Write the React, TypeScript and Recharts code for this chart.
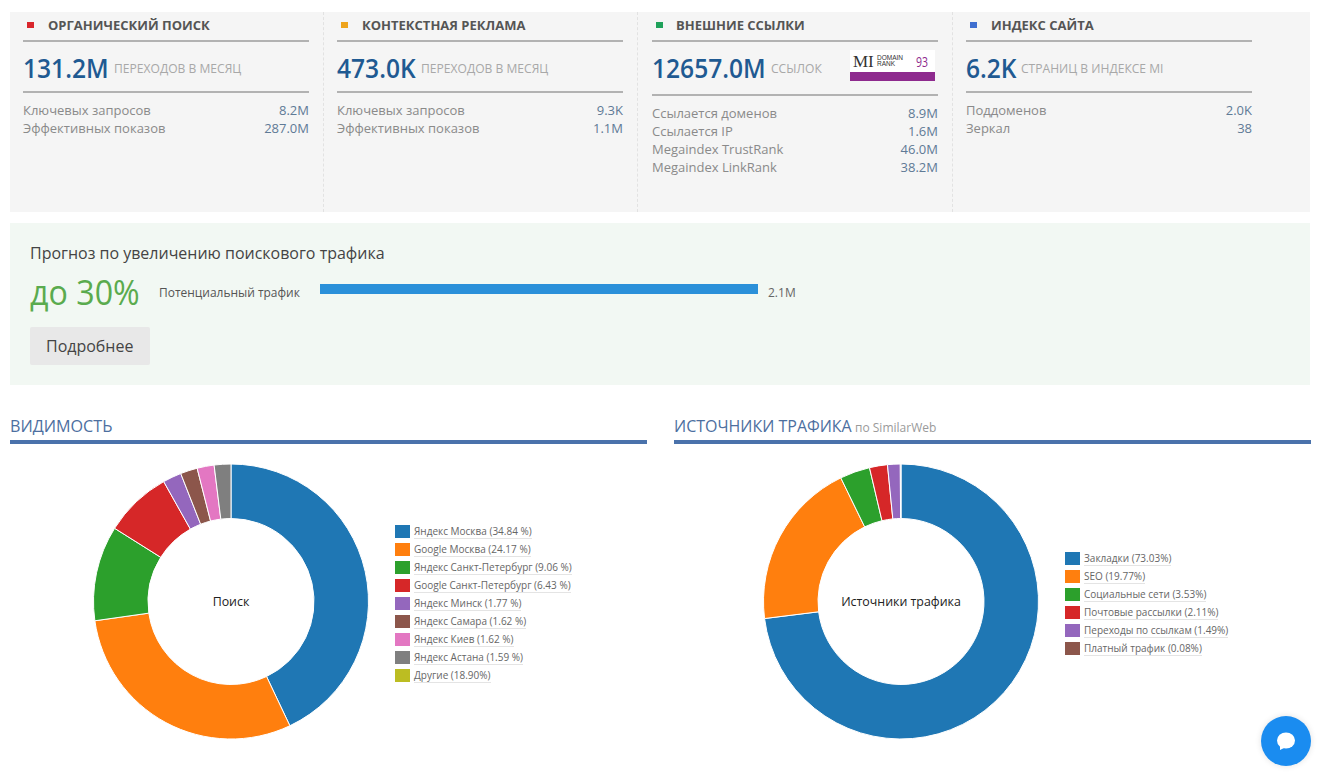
import React from "react";
import { PieChart, Pie, Cell, Label, BarChart, Bar, XAxis, YAxis } from "recharts";

const visibilityNames = ["Яндекс Москва", "Google Москва", "Яндекс Санкт-Петербург", "Google Санкт-Петербург", "Яндекс Минск", "Яндекс Самара", "Яндекс Киев", "Яндекс Астана"];
const visibilityValues = [34.84, 24.17, 9.06, 6.43, 1.77, 1.62, 1.62, 1.59];
const visibilityOtherLabel = "Другие (18.90%)";
const sourceNames = ["Закладки", "SEO", "Социальные сети", "Почтовые рассылки", "Переходы по ссылкам", "Платный трафик"];
const sourceValues = [73.03, 19.77, 3.53, 2.11, 1.49, 0.08];
const palette = ["#1f77b4", "#ff7f0e", "#2ca02c", "#d62728", "#9467bd", "#8c564b", "#e377c2", "#7f7f7f", "#bcbd22"];
const forecastRows = [{ name: "Потенциальный трафик", value: 2.1 }];

const FONT = "'Open Sans', sans-serif";

const T = ({ x, y, size, color, children, weight, right, font, sx, ls }: any) => (
  <div
    style={{
      position: "absolute",
      top: y,
      ...(right !== undefined ? { right: 1321 - right } : { left: x }),
      transform: `translateY(-50%) scaleX(${sx ?? 1})`,
      transformOrigin: right !== undefined ? "right center" : "left center",
      fontFamily: font ?? FONT,
      fontSize: size,
      fontWeight: weight ?? 400,
      color,
      letterSpacing: ls,
      lineHeight: 1,
      whiteSpace: "nowrap",
    }}
  >
    {children}
  </div>
);

const Box = ({ x, y, w, h, bg, style }: any) => (
  <div style={{ position: "absolute", left: x, top: y, width: w, height: h, background: bg, ...style }} />
);

const cards = [
  { x: 23, titleX: 48, marker: "#d9262c", title: "ОРГАНИЧЕСКИЙ ПОИСК", big: "131.2M", sub: "ПЕРЕХОДОВ В МЕСЯЦ", subX: 114, line2: 91, firstRow: 110, rows: [["Ключевых запросов", "8.2M"], ["Эффективных показов", "287.0M"]] },
  { x: 337, titleX: 362, marker: "#eea41c", title: "КОНТЕКСТНАЯ РЕКЛАМА", big: "473.0K", sub: "ПЕРЕХОДОВ В МЕСЯЦ", subX: 421, line2: 91, firstRow: 110, rows: [["Ключевых запросов", "9.3K"], ["Эффективных показов", "1.1M"]] },
  { x: 652, titleX: 676, marker: "#1fa15a", title: "ВНЕШНИЕ ССЫЛКИ", big: "12657.0M", sub: "ССЫЛОК", subX: 771, line2: 94, firstRow: 113, rows: [["Ссылается доменов", "8.9M"], ["Ссылается IP", "1.6M"], ["Megaindex TrustRank", "46.0M"], ["Megaindex LinkRank", "38.2M"]] },
  { x: 966, titleX: 991, marker: "#3f6fd0", title: "ИНДЕКС САЙТА", big: "6.2K", sub: "СТРАНИЦ В ИНДЕКСЕ MI", subX: 1021, line2: 91, firstRow: 110, rows: [["Поддоменов", "2.0K"], ["Зеркал", "38"]] },
];

const Donut = ({ names, values, x, center }: any) => {
  const data = names.map((name: string, i: number) => ({ name, value: values[i] }));
  return (
    <div style={{ position: "absolute", left: x, top: 456.5, width: 290, height: 290 }}>
      <PieChart width={290} height={290} margin={{ top: 0, right: 0, bottom: 0, left: 0 }}>
        <Pie
          data={data}
          dataKey="value"
          cx={145}
          cy={144.5}
          innerRadius={83}
          outerRadius={137.5}
          startAngle={90}
          endAngle={-270}
          stroke="#ffffff"
          strokeWidth={1}
          isAnimationActive={false}
        >
          {data.map((_: any, i: number) => (
            <Cell key={i} fill={palette[i]} />
          ))}
          <Label value={center} position="center" fill="#222222" fontSize={12.4} fontFamily="'Open Sans', sans-serif" />
        </Pie>
      </PieChart>
    </div>
  );
};

const LegendList = ({ x, y, labels }: any) => (
  <>
    {labels.map((label: string, i: number) => (
      <React.Fragment key={label}>
        <Box x={x} y={y + i * 18 - 7} w={15} h={13} bg={palette[i]} />
        <div
          style={{
            position: "absolute",
            left: x + 19,
            top: y + i * 18 - 7,
            fontFamily: FONT,
            fontSize: 10,
            lineHeight: "13px",
            color: "#666",
            borderBottom: "1px solid #e4e4e4",
            whiteSpace: "nowrap",
          }}
        >
          {label}
        </div>
      </React.Fragment>
    ))}
  </>
);

export default function App() {
  const visLabels = [
    ...visibilityNames.map((n, i) => `${n} (${visibilityValues[i].toFixed(2)} %)`),
    visibilityOtherLabel,
  ];
  const srcLabels = sourceNames.map((n, i) => `${n} (${sourceValues[i].toFixed(2)}%)`);
  return (
    <div style={{ position: "absolute", left: 0, top: 0, width: 1321, height: 777, background: "#fff", overflow: "hidden" }}>
      <Box x={10} y={12} w={1300} h={200} bg="#f5f5f5" />
      {[323, 637, 952].map((sx) => (
        <Box key={sx} x={sx} y={12} w={0} h={200} style={{ borderLeft: "1px dashed #e2e2e2" }} />
      ))}
      {cards.map((c) => (
        <React.Fragment key={c.title}>
          <Box x={c.x + 4} y={22} w={7} h={6} bg={c.marker} />
          <T x={c.titleX} y={25} size={13} weight={700} color="#555555">{c.title}</T>
          <Box x={c.x} y={40} w={286} h={2} bg="#b2b2b2" />
          <T x={c.x} y={67} size={27} weight={600} color="#1f5a92" sx={0.91}>{c.big}</T>
          <T x={c.subX} y={68} size={13} color="#a8a8a8" sx={0.93}>{c.sub}</T>
          <Box x={c.x} y={c.line2} w={286} h={2} bg="#b2b2b2" />
          {c.rows.map((r, i) => (
            <React.Fragment key={r[0]}>
              <T x={c.x} y={c.firstRow + i * 18} size={13} color="#8a8a8a">{r[0]}</T>
              <T right={c.x + 286} y={c.firstRow + i * 18} size={13} color="#5f7a96">{r[1]}</T>
            </React.Fragment>
          ))}
        </React.Fragment>
      ))}
      <Box x={850} y={50} w={85} h={31} bg="#ffffff" />
      <Box x={850} y={72} w={85} h={9} bg="#8e2a8e" />
      <T x={853} y={61} size={17} color="#333" font="'Liberation Serif', serif">MI</T>
      <T x={877} y={58} size={6.5} color="#333" font="'Liberation Sans', sans-serif">DOMAIN</T>
      <T x={877} y={64} size={6.5} color="#333" font="'Liberation Sans', sans-serif">RANK</T>
      <T x={916} y={61} size={15} color="#8e2a8e" sx={0.7}>93</T>

      <Box x={10} y={223} w={1300} h={162} bg="#f2f8f3" />
      <T x={30} y={252} size={17} color="#444444" sx={0.94}>Прогноз по увеличению поискового трафика</T>
      <T x={30} y={291} size={35} color="#5aab4e" sx={0.92}>до 30%</T>
      <T x={159} y={292} size={13} color="#555555" sx={0.92}>{forecastRows[0].name}</T>
      <div style={{ position: "absolute", left: 320, top: 284, width: 438, height: 10 }}>
        <BarChart width={438} height={10} data={forecastRows} layout="vertical" margin={{ top: 0, right: 0, bottom: 0, left: 0 }} barCategoryGap={0}>
          <XAxis type="number" hide domain={[0, 2.1]} />
          <YAxis type="category" dataKey="name" hide />
          <Bar dataKey="value" fill="#2b90d9" isAnimationActive={false} />
        </BarChart>
      </div>
      <T x={768} y={293} size={12} color="#666666">2.1M</T>
      <Box x={30} y={327} w={120} h={38} bg="#e8e8e8" style={{ borderRadius: 2 }} />
      <T x={46} y={345} size={17} color="#444444" sx={0.94}>Подробнее</T>

      <T x={10} y={425} size={17} color="#4d6f9f" sx={0.95}>ВИДИМОСТЬ</T>
      <Box x={10} y={440} w={637} h={4} bg="#4a72ab" />
      <T x={674} y={425} size={17} color="#4d6f9f" sx={0.94}>ИСТОЧНИКИ ТРАФИКА</T>
      <T x={855} y={428} size={12} color="#9a9a9a">по SimilarWeb</T>
      <Box x={674} y={440} w={637} h={4} bg="#4a72ab" />

      <Donut names={visibilityNames} values={visibilityValues} x={85.5} center="Поиск" />
      <LegendList x={395} y={532} labels={visLabels} />
      <Donut names={sourceNames} values={sourceValues} x={755.5} center="Источники трафика" />
      <LegendList x={1065} y={559} labels={srcLabels} />

      <div style={{ position: "absolute", left: 1261, top: 716, width: 50, height: 50, borderRadius: "50%", background: "#1a8cf0", boxShadow: "0 0 6px rgba(0,0,0,0.12)" }}>
        <svg width={50} height={50}>
          <ellipse cx={25} cy={24.5} rx={9} ry={8} fill="#fff" />
          <path d="M19 28 L19 34 L25 31 Z" fill="#fff" />
        </svg>
      </div>
    </div>
  );
}
